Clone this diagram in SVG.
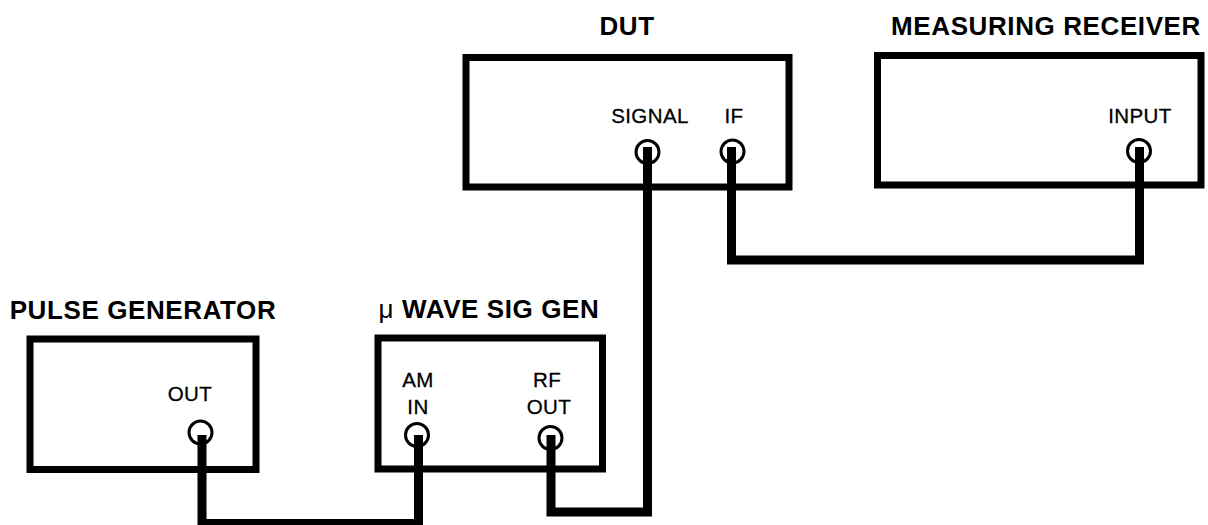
<svg xmlns="http://www.w3.org/2000/svg" width="1208" height="525" viewBox="0 0 1208 525">
<style>
.box{fill:none;stroke:#000;stroke-width:7}
.port{fill:#fff;stroke:#000;stroke-width:3}
.title{font-family:"Liberation Sans",Arial,sans-serif;font-weight:bold;font-size:26px;letter-spacing:0.6px;text-anchor:middle;fill:#000}
.lbl{font-family:"Liberation Sans",Arial,sans-serif;font-size:20.5px;letter-spacing:0.4px;text-anchor:middle;fill:#000;stroke:#000;stroke-width:0.3}
.cable{fill:none;stroke:#000;stroke-width:9;stroke-linejoin:miter;stroke-linecap:butt}
</style>
<rect width="1208" height="525" fill="#fff"/>
<g id="dut">
<text class="title" x="627" y="35">DUT</text>
<rect class="box" x="466" y="57.5" width="323" height="129.5"/>
<text class="lbl" x="650" y="123">SIGNAL</text>
<text class="lbl" x="734" y="123">IF</text>
<circle class="port" cx="647.5" cy="152" r="11.5"/>
<circle class="port" cx="732.5" cy="151.5" r="11.5"/>
</g>
<g id="measuring-receiver">
<text class="title" x="1046" y="35">MEASURING RECEIVER</text>
<rect class="box" x="877.5" y="55.5" width="323.5" height="129.5"/>
<text class="lbl" x="1140" y="123">INPUT</text>
<circle class="port" cx="1139" cy="151" r="11.5"/>
</g>
<g id="pulse-generator">
<text class="title" x="143" y="319">PULSE GENERATOR</text>
<rect class="box" x="30" y="339" width="226" height="130.5"/>
<text class="lbl" x="190" y="401">OUT</text>
<circle class="port" cx="200.5" cy="432.5" r="11.5"/>
</g>
<g id="uwave-sig-gen">
<text class="title" x="489" y="318"><tspan font-weight="normal">μ</tspan> WAVE SIG GEN</text>
<rect class="box" x="378" y="338" width="224.5" height="131"/>
<text class="lbl" x="418" y="387">AM</text>
<text class="lbl" x="418" y="414">IN</text>
<text class="lbl" x="547" y="387">RF</text>
<text class="lbl" x="549" y="414">OUT</text>
<circle class="port" cx="417" cy="435" r="11.5"/>
<circle class="port" cx="550.5" cy="438" r="11.5"/>
</g>
<g id="connectors">
<path class="cable" d="M202,435 V523.5 H418.5 V435"/>
<path class="cable" d="M551,435 V512 H647.5 V147"/>
<path class="cable" d="M731.5,147 V260 H1139.5 V147"/>
</g>
</svg>
